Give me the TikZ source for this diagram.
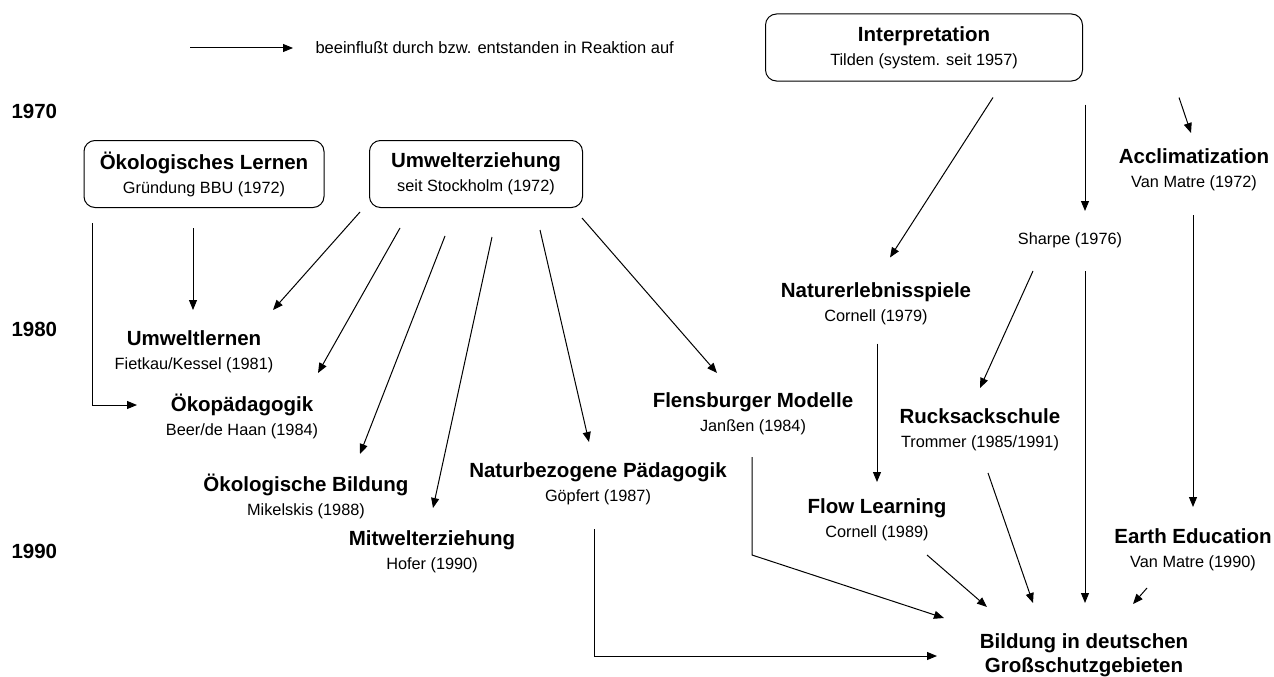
\documentclass[tikz,border=0pt]{standalone}
\usepackage{fontspec}
\setmainfont{Liberation Sans}
\usetikzlibrary{arrows.meta,calc}

\newcommand{\ttl}[1]{{\fontsize{20.5}{24}\selectfont\bfseries #1}}
\newcommand{\sbt}[1]{{\fontsize{16.3}{24}\selectfont #1}}

\tikzset{
  arr/.style={-{Triangle[length=10pt,width=8pt]},line width=1pt},
  box/.style={draw,line width=1pt,rounded corners=11pt,align=center,inner sep=0pt,
    font=\fontsize{16.3}{24}\selectfont},
  item/.style={align=center,inner sep=0pt,font=\fontsize{16.3}{24}\selectfont},
  year/.style={anchor=west,font=\fontsize{20.5}{24}\selectfont\bfseries}
}

\begin{document}
\begin{tikzpicture}[x=1pt,y=-1pt]
  \useasboundingbox (0,0) rectangle (1274,677);

  %legend
  \node[anchor=west,font=\fontsize{16.5}{20}\selectfont] (leg) at (312,48) {beeinflußt durch bzw. entstanden in Reaktion auf};
  \draw[arr] ([xshift=-122pt]leg.west) -- ([xshift=-19pt]leg.west);

  %years
  \node[year] (y70) at (8,111) {1970};
  \node[year] (y80) at (8,329) {1980};
  \node[year] (y90) at (8,551) {1990};

  %boxes
  \node[box,minimum width=240pt,minimum height=67pt] (oel) at (204,174) {\ttl{Ökologisches Lernen}\\\sbt{Gründung BBU (1972)}};
  \node[box,minimum width=213pt,minimum height=67pt] (ue) at (476,174) {\ttl{Umwelterziehung}\\\sbt{seit Stockholm (1972)}};
  \node[box,minimum width=317pt,minimum height=67pt] (interp) at (924,47.5) {\ttl{Interpretation}\\\sbt{Tilden (system. seit 1957)}};

  %left branch
  \node[item] (uwl) at (194,351.5) {\ttl{Umweltlernen}\\\sbt{Fietkau/Kessel (1981)}};
  \node[item] (oep) at (242,416.5) {\ttl{Ökopädagogik}\\\sbt{Beer/de Haan (1984)}};
  \node[item] (oeb) at (306,496) {\ttl{Ökologische Bildung}\\\sbt{Mikelskis (1988)}};
  \node[item] (mwe) at (432,552) {\ttl{Mitwelterziehung}\\\sbt{Hofer (1990)}};
  \node[item] (nbp) at (598,484) {\ttl{Naturbezogene Pädagogik}\\\sbt{Göpfert (1987)}};
  \node[item] (flm) at (753,414) {\ttl{Flensburger Modelle}\\\sbt{Janßen (1984)}};

  %right branch
  \node[item] (accl) at (1194,170) {\ttl{Acclimatization}\\\sbt{Van Matre (1972)}};
  \node[item] (sharpe) at (1070,240) {\sbt{Sharpe (1976)}};
  \node[item] (nes) at (876,303.5) {\ttl{Naturerlebnisspiele}\\\sbt{Cornell (1979)}};
  \node[item] (rs) at (980,430) {\ttl{Rucksackschule}\\\sbt{Trommer (1985/1991)}};
  \node[item] (flow) at (877,520) {\ttl{Flow Learning}\\\sbt{Cornell (1989)}};
  \node[item] (earth) at (1193,549.5) {\ttl{Earth Education}\\\sbt{Van Matre (1990)}};
  \node[item,font=\fontsize{20.5}{24}\selectfont] (bild) at (1084,655) {\ttl{Bildung in deutschen}\\\ttl{Großschutzgebieten}};

  %connectors
  \draw[arr] ($(oel)+(-112,49)$) |- ($(oep)+(-105,-11.5)$);
  \draw[arr] ($(oel)+(-11,54)$) -- ($(uwl)+(-1,-41.5)$);
  \draw[arr] ($(ue)+(-116,38)$) -- ($(uwl)+(79,-41.5)$);
  \draw[arr] ($(ue)+(-76,54)$) -- ($(oep)+(76,-43.5)$);
  \draw[arr] ($(ue)+(-31,62)$) -- ($(oeb)+(54,-42)$);
  \draw[arr] ($(ue)+(16,63)$) -- ($(mwe)+(1,-44)$);
  \draw[arr] ($(ue)+(64,56)$) -- ($(nbp)+(-9,-42)$);
  \draw[arr] ($(ue)+(106,44)$) -- ($(flm)+(-36,-41)$);

  \draw[arr] ($(interp)+(69,50)$) -- ($(nes)+(14,-46)$);
  \draw[arr] ($(interp)+(161,57)$) -- ($(sharpe)+(15,-29)$);
  \draw[arr] ($(interp)+(255,50)$) -- ($(accl)+(-3,-37)$);
  \draw[arr] ($(sharpe)+(-37,31)$) -- ($(rs)+(0,-42)$);
  \draw[arr] ($(sharpe)+(15,31)$) -- ($(bild)+(1,-52)$);
  \draw[arr] ($(accl)+(-1,45)$) -- ($(earth)+(0,-42.5)$);
  \draw[arr] ($(nes)+(1,40)$) -- ($(flow)+(0,-38)$);

  \draw[arr] ($(rs)+(8,43)$) -- ($(bild)+(-51,-52)$);
  \draw[arr] ($(flow)+(50,35)$) -- ($(bild)+(-97,-48)$);
  \draw[arr] ($(earth)+(-46,38.5)$) -- ($(bild)+(49,-51)$);
  \draw[arr] ($(flm)+(-1,43)$) -- ($(flm)+(-1,141)$) -- ($(bild)+(-140,-37)$);
  \draw[arr] ($(nbp)+(-4,45)$) |- ($(bild)+(-147,1)$);
\end{tikzpicture}
\end{document}
